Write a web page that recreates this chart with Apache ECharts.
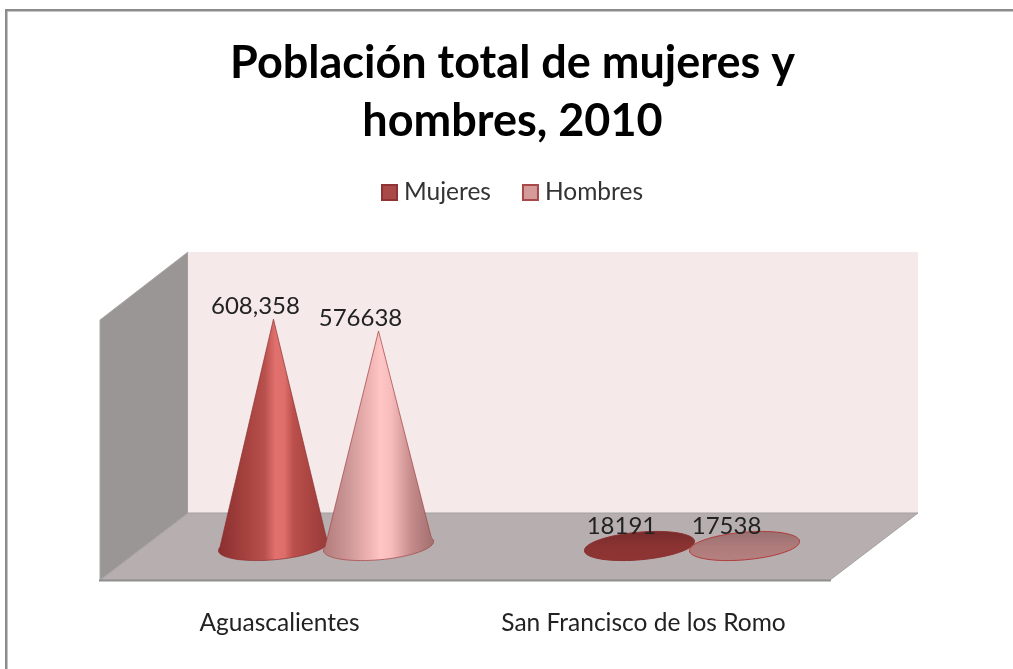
<!DOCTYPE html>
<html><head><meta charset="utf-8">
<style>html,body{margin:0;padding:0;background:#fff}#c{width:1013px;height:669px}</style>
<script src="https://cdn.jsdelivr.net/npm/echarts@6/dist/echarts.min.js"></script>
</head><body><div id="c"></div>
<script>
const titleText = 'Población total de mujeres y\nhombres, 2010';
const categories = ['Aguascalientes', 'San Francisco de los Romo'];
const mujeres = [608358, 18191];
const hombres = [576638, 17538];
const mujeresLabels = ['608,358', '18191'];
const hombresLabels = ['576638', '17538'];
const seriesNames = ['Mujeres', 'Hombres'];
const FONT = 'Lato';

const chart = echarts.init(document.getElementById('c'), null, {renderer: 'canvas'});
const grad = (stops) => new echarts.graphic.LinearGradient(0, 0, 1, 0, stops.map(s => ({offset: s[0], color: s[1]})));
const vgrad = (stops) => new echarts.graphic.LinearGradient(0, 0, 0, 1, stops.map(s => ({offset: s[0], color: s[1]})));
const looks = [
  {tall: [[0,'#8a2f2f'],[0.25,'#a5423f'],[0.42,'#b8504c'],[0.52,'#e2716e'],[0.6,'#dd6e6a'],[0.68,'#bb4f4b'],[1,'#963a38']],
   flat: [[0,'#762b2b'],[0.5,'#8a3332'],[1,'#8f3534']], stroke: 'rgba(142,48,48,0.7)', flatStroke: '#8a3030'},
  {tall: [[0,'#b27c7c'],[0.2,'#c99393'],[0.42,'#efb3b3'],[0.52,'#ffc6c6'],[0.62,'#f6baba'],[0.8,'#c48a8a'],[1,'#a06e6e']],
   flat: [[0,'#977070'],[0.5,'#ae7a7a'],[1,'#b58080']], stroke: 'rgba(168,74,74,0.75)', flatStroke: '#b23c3c'}
];

function cone(which, labels) {
  return function (params, api) {
    const i = api.value(0), v = api.value(1);
    const top = api.coord([i, v]), base = api.coord([i, 0]);
    const band = api.size([1, 0])[0];
    const cx = base[0] + (which === 0 ? -1 : 1) * band * 0.1435;
    const cy = base[1], rx = band * 0.151, ry = 13.8, a = -5 * Math.PI / 180;
    const pt = t => {
      const ex = rx * Math.cos(t), ey = ry * Math.sin(t);
      return [cx + ex * Math.cos(a) - ey * Math.sin(a), cy + ex * Math.sin(a) + ey * Math.cos(a)];
    };
    const h = cy - top[1], isFlat = h < ry * 1.5, look = looks[which], pts = [];
    if (isFlat) {
      for (let k = 0; k < 72; k++) pts.push(pt(k / 72 * 2 * Math.PI));
    } else {
      pts.push([cx, top[1]]);
      for (let k = -3; k <= 39; k++) pts.push(pt(k / 36 * Math.PI));
    }
    return {type: 'group', children: [
      {type: 'polygon', shape: {points: pts}, style: {
        fill: isFlat ? vgrad(look.flat) : grad(look.tall),
        stroke: isFlat ? look.flatStroke : look.stroke, lineWidth: 1}},
      {type: 'text', z2: 10, style: {
        text: labels[params.dataIndex], x: cx - 18, y: top[1] - 13,
        align: 'center', verticalAlign: 'middle',
        font: '24px ' + FONT, fill: '#222'}}
    ]};
  };
}

chart.setOption({
  animation: false,
  backgroundColor: '#fff',
  title: {text: titleText, left: 507.5, top: 29, textAlign: 'center',
    textStyle: {fontFamily: FONT, fontWeight: 'bold', fontSize: 45, lineHeight: 58, color: '#000'}},
  legend: {left: 381, top: 180, padding: 0, itemWidth: 15, itemHeight: 15, itemGap: 31,
    textStyle: {fontFamily: FONT, fontSize: 24.5, color: '#333', padding: [0,0,0,2]},
    data: [
      {name: seriesNames[0], icon: 'rect', itemStyle: {color: '#a94a48', borderColor: '#8e3434', borderWidth: 2}},
      {name: seriesNames[1], icon: 'rect', itemStyle: {color: '#d59a9a', borderColor: '#a84848', borderWidth: 2}}
    ]},
  grid: [
    {left: 143, width: 732, top: 285, height: 261},
    {left: 97.5, width: 728, top: 285, height: 295}
  ],
  xAxis: [
    {type: 'category', gridIndex: 0, data: categories, show: false},
    {type: 'category', gridIndex: 1, data: categories,
     axisLine: {show: false}, axisTick: {show: false},
     axisLabel: {margin: 31, interval: 0, fontFamily: FONT, fontSize: 24.5, color: '#222'}}
  ],
  yAxis: [
    {type: 'value', gridIndex: 0, min: 0, max: 700000, show: false},
    {type: 'value', gridIndex: 1, min: 0, max: 700000, show: false}
  ],
  graphic: {elements: [
    {type: 'polygon', z: 0, shape: {points: [[188,252],[188,513],[100,580],[100,320]]},
     style: {fill: '#9b9696', stroke: '#a9a5a5', lineWidth: 1}},
    {type: 'rect', z: 0, shape: {x: 188, y: 252, width: 730, height: 261},
     style: {fill: '#f5e9e9'}},
    {type: 'polygon', z: 0, shape: {points: [[188,513],[918,513],[830,580],[100,580]]},
     style: {fill: '#b7afaf', stroke: '#a3a0a0', lineWidth: 1}},
    {type: 'line', z: 0, shape: {x1: 99, y1: 580.5, x2: 831, y2: 580.5},
     style: {stroke: '#8f8f8f', lineWidth: 2}},
    {type: 'rect', z: 0, shape: {x: 5, y: 9, width: 1008, height: 2.5}, style: {fill: '#8c8c8c'}},
    {type: 'rect', z: 0, shape: {x: 5, y: 9, width: 2.5, height: 660}, style: {fill: '#8c8c8c'}}
  ]},
  series: [
    {name: seriesNames[0], type: 'custom', coordinateSystem: 'cartesian2d', xAxisIndex: 0, yAxisIndex: 0, z: 3,
     itemStyle: {color: '#a94a48'}, clip: false, renderItem: cone(0, mujeresLabels),
     encode: {x: 0, y: 1}, data: mujeres.map((v, i) => [i, v])},
    {name: seriesNames[1], type: 'custom', coordinateSystem: 'cartesian2d', xAxisIndex: 0, yAxisIndex: 0, z: 4,
     itemStyle: {color: '#d59a9a'}, clip: false, renderItem: cone(1, hombresLabels),
     encode: {x: 0, y: 1}, data: hombres.map((v, i) => [i, v])}
  ]
});
</script></body></html>
